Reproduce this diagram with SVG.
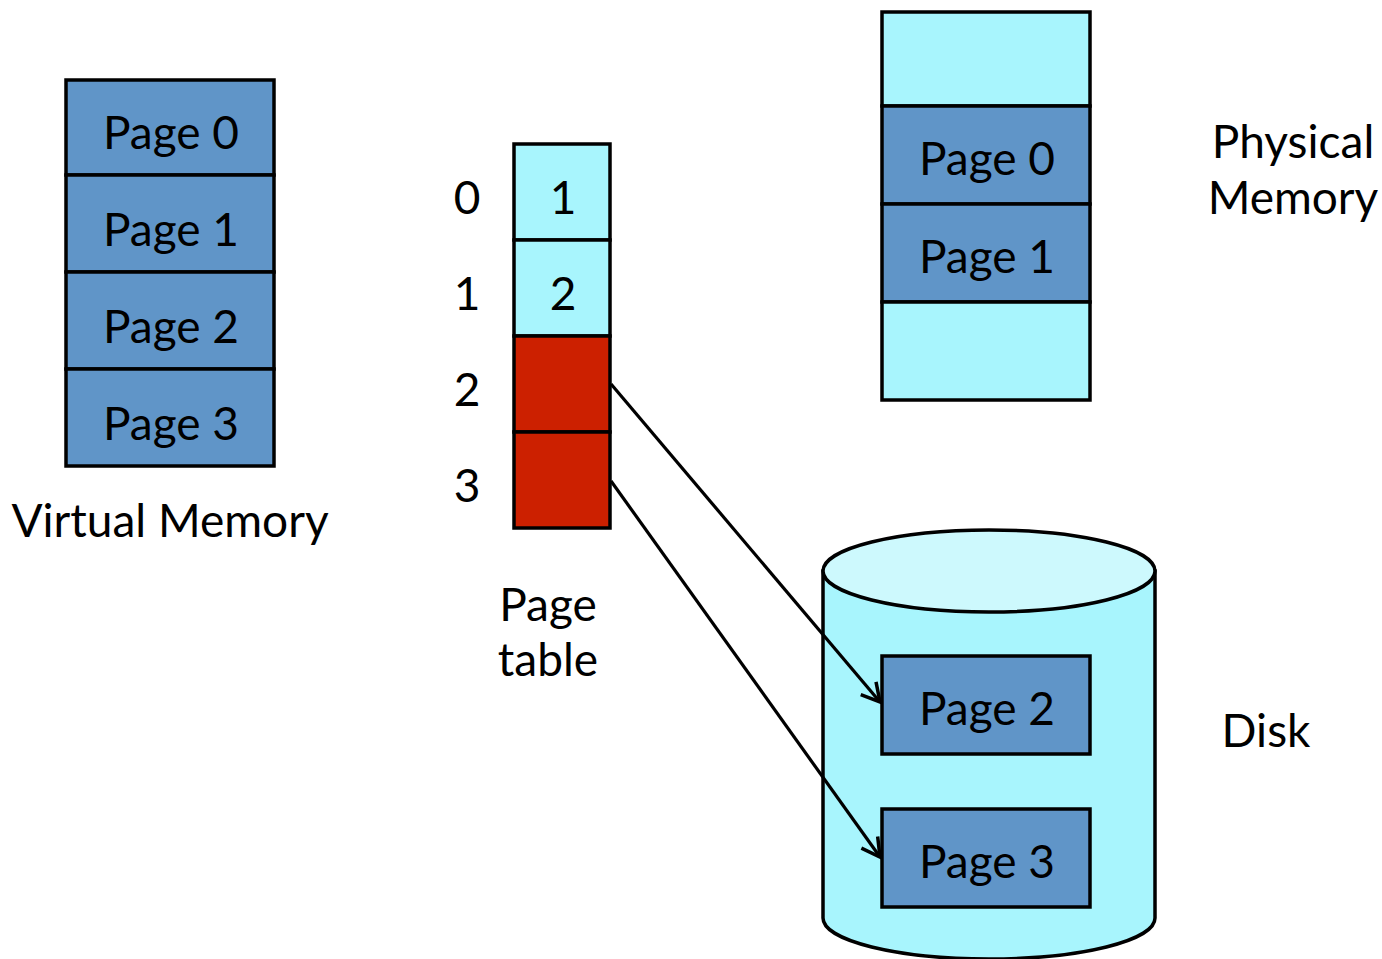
<svg xmlns="http://www.w3.org/2000/svg" width="1382" height="959" viewBox="0 0 1382 959">
  <style>
    .page { fill: #6095c8; stroke: #000; stroke-width: 3.5; }
    .free { fill: #a8f5fd; stroke: #000; stroke-width: 3.5; }
    .miss { fill: #cc2000; stroke: #000; stroke-width: 3.5; }
    text { font-family: Lato, "Open Sans", sans-serif; font-size: 46px; fill: #000; text-anchor: middle; }
    .link { fill: none; stroke: #000; stroke-width: 3.2; }
  </style>
  <defs>
    <marker id="head" markerUnits="userSpaceOnUse" viewBox="0 0 24 24" refX="21" refY="12" markerWidth="24" markerHeight="24" orient="auto">
      <path d="M3,2 L21,12 L3,22" fill="none" stroke="#000" stroke-width="3.5" stroke-linejoin="miter"/>
    </marker>
  </defs>
  <rect width="1382" height="959" fill="#fff"/>

  <!-- virtual address space -->
  <g id="virtual-memory">
    <rect class="page" x="66" y="80" width="208" height="95"/>
    <rect class="page" x="66" y="175" width="208" height="97"/>
    <rect class="page" x="66" y="272" width="208" height="97"/>
    <rect class="page" x="66" y="369" width="208" height="97"/>
    <text x="171" y="149">Page 0</text>
    <text x="171" y="246">Page 1</text>
    <text x="171" y="343">Page 2</text>
    <text x="171" y="440">Page 3</text>
    <text x="170" y="537">Virtual Memory</text>
  </g>

  <!-- page table entries -->
  <g id="page-table">
    <rect class="free" x="514" y="144" width="96" height="96"/>
    <rect class="free" x="514" y="240" width="96" height="96"/>
    <rect class="miss" x="514" y="336" width="96" height="96"/>
    <rect class="miss" x="514" y="432" width="96" height="96"/>
    <text x="467" y="214">0</text>
    <text x="467" y="310">1</text>
    <text x="467" y="406">2</text>
    <text x="467" y="502">3</text>
    <text x="563" y="214">1</text>
    <text x="563" y="310">2</text>
    <text x="548" y="621">Page</text>
    <text x="548" y="676">table</text>
  </g>

  <!-- physical frames -->
  <g id="physical-memory">
    <rect class="free" x="882" y="12" width="208" height="94"/>
    <rect class="page" x="882" y="106" width="208" height="98"/>
    <rect class="page" x="882" y="204" width="208" height="98"/>
    <rect class="free" x="882" y="302" width="208" height="98"/>
    <text x="987" y="175">Page 0</text>
    <text x="987" y="273">Page 1</text>
    <text x="1293" y="158">Physical</text>
    <text x="1293" y="214">Memory</text>
  </g>

  <!-- backing store -->
  <g id="disk">
    <path d="M823,571 L823,918 A166,41 0 0 0 1155,918 L1155,571 Z" fill="#a8f5fd" stroke="#000" stroke-width="3.5"/>
    <ellipse cx="989" cy="571" rx="166" ry="41" fill="#cdf9fd" stroke="#000" stroke-width="3.5"/>
    <rect class="page" x="882" y="656" width="208" height="98"/>
    <rect class="page" x="882" y="809" width="208" height="98"/>
    <text x="987" y="725">Page 2</text>
    <text x="987" y="878">Page 3</text>
    <text x="1266" y="747">Disk</text>
  </g>

  <g id="connectors">
    <line class="link" x1="611" y1="384" x2="880" y2="702" marker-end="url(#head)"/>
    <line class="link" x1="611" y1="481" x2="880" y2="857" marker-end="url(#head)"/>
  </g>
</svg>
